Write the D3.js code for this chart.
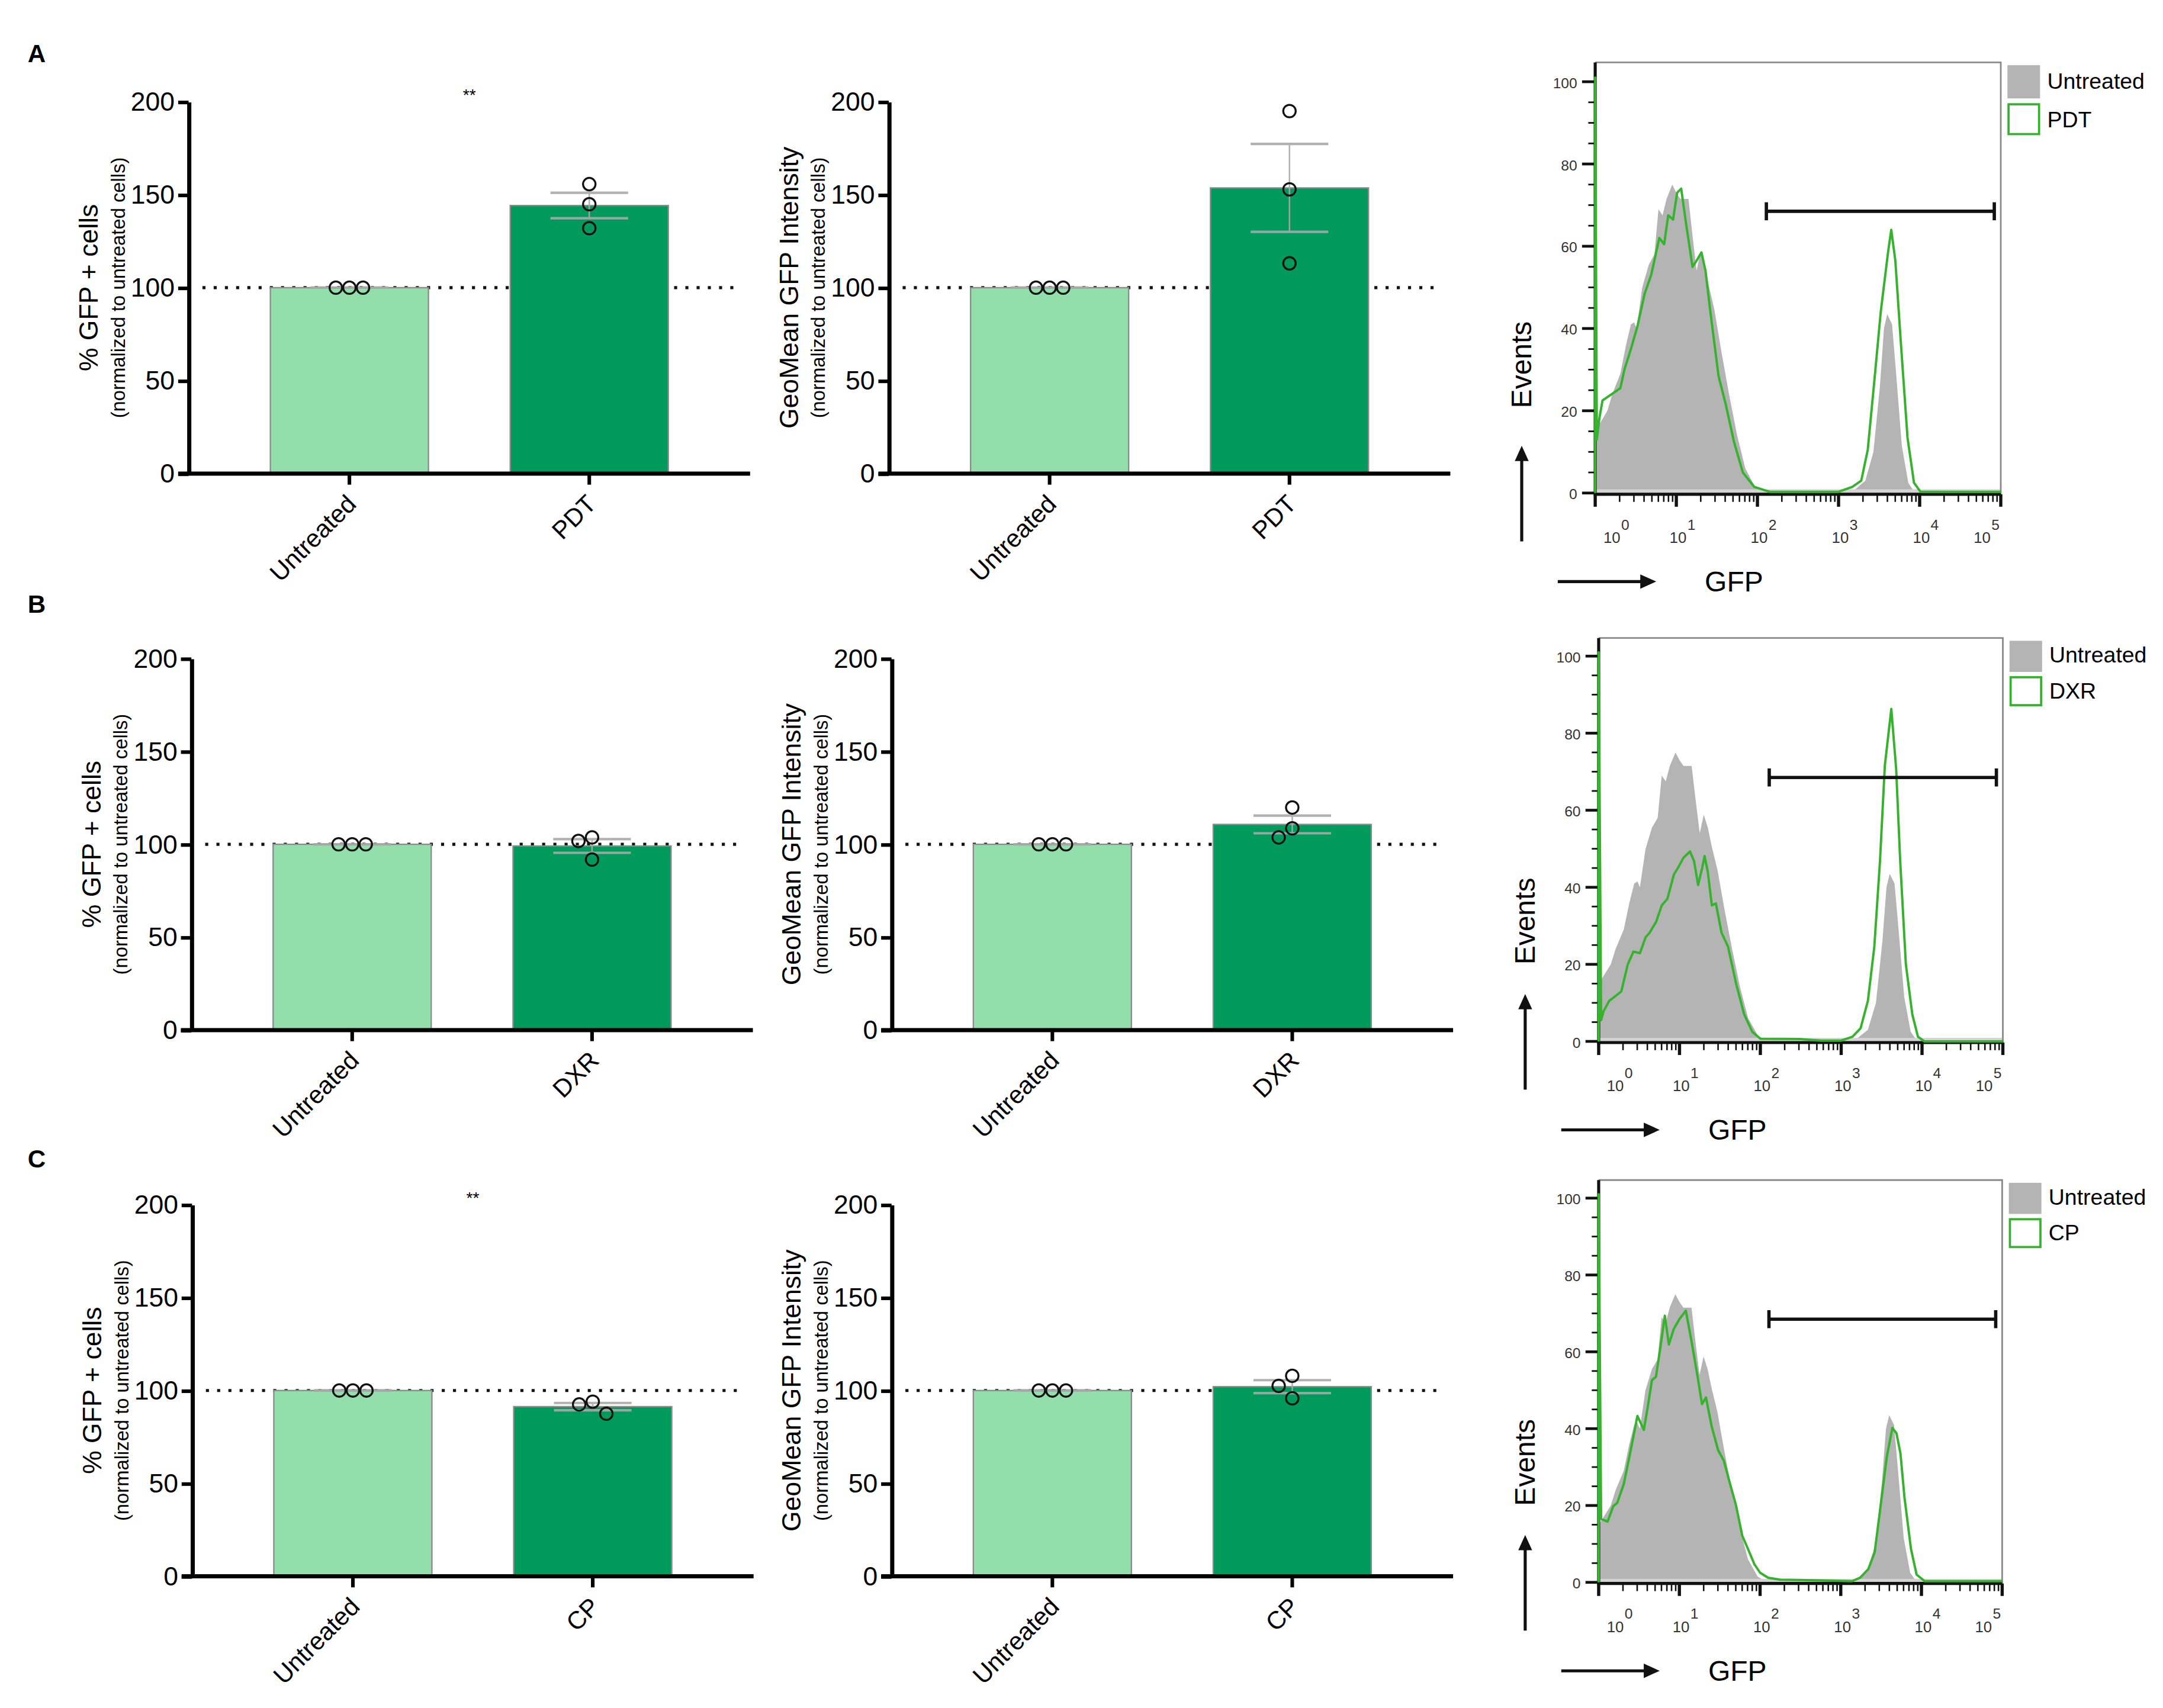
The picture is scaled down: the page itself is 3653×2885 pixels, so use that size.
<!DOCTYPE html>
<html>
<head>
<meta charset="utf-8">
<script src="https://cdn.jsdelivr.net/npm/d3@7"></script>
<style>
  body { margin: 0; background: #fff; }
  svg { display: block; }
  text { font-family: "Liberation Sans", Arial, sans-serif; }
</style>
</head>
<body>
<div id="chart"></div>
<script>
// ---- data -------------------------------------------------------------
var panelLetters = ['A', 'B', 'C'];
var treatments = ['PDT', 'DXR', 'CP'];

// % GFP+ cells, normalized to untreated (three replicates each)
var untreatedPct = [100, 100, 100];
var pdtPct = [155.7, 144.9, 132.0];
var dxrPct = [103.7, 101.8, 91.8];
var cpPct = [94.0, 92.5, 87.5];

// GeoMean GFP intensity, normalized to untreated
var untreatedMfi = [100, 100, 100];
var pdtMfi = [195.0, 152.9, 113.1];
var dxrMfi = [119.8, 108.6, 103.7];
var cpMfi = [107.9, 102.5, 95.8];

var pctStars = ['**', '', '**'];
var barTicks = [0, 50, 100, 150, 200];

// flow histograms: GFP in log10 units, events in % of max
var untreatedGfpLog = [0, 0.06, 0.15, 0.21, 0.31, 0.38, 0.44, 0.48, 0.51, 0.58, 0.66, 0.73, 0.78, 0.83, 0.88, 0.95, 1.0, 1.05, 1.15, 1.2, 1.25, 1.3, 1.35, 1.4, 1.47, 1.55, 1.65, 1.75, 1.85, 1.97, 2.05, 2.5, 3.0, 3.2, 3.33, 3.43, 3.51, 3.56, 3.6, 3.66, 3.71, 3.78, 3.86, 3.93, 4.0, 5.0];
var untreatedEvents = [15, 17, 20, 24, 29, 36, 41, 41.5, 40, 50, 55.5, 58, 69, 67.5, 71.5, 75, 73, 71.5, 71.5, 62.5, 54, 58.8, 55.5, 50.5, 44.5, 35, 24, 14, 6, 1.5, 0.5, 0.3, 0.2, 0.8, 3, 10, 26, 40, 43.5, 41, 29, 11.5, 2.5, 0.4, 0, 0];

var pdtGfpLog = [0, 0, 0.02, 0.05, 0.09, 0.2, 0.31, 0.36, 0.44, 0.52, 0.61, 0.69, 0.74, 0.79, 0.85, 0.9, 0.96, 1.01, 1.06, 1.12, 1.2, 1.25, 1.31, 1.36, 1.42, 1.52, 1.61, 1.71, 1.82, 1.96, 2.15, 3.0, 3.17, 3.28, 3.36, 3.44, 3.52, 3.61, 3.65, 3.7, 3.77, 3.85, 3.93, 4.01, 5.0];
var pdtEvents = [0, 101, 13, 18, 22.5, 24, 25.5, 30, 35, 40.5, 48.5, 53, 57.5, 62, 60.5, 67.5, 66.5, 73, 74, 65.5, 55, 56.5, 58.5, 54, 44, 28.5, 21.5, 12.5, 5, 1.5, 0.3, 0.3, 1.5, 3, 10.5, 27, 44, 58.5, 64, 56.5, 36, 13.5, 2.5, 0.3, 0.3];

var dxrGfpLog = [0, 0, 0.03, 0.06, 0.13, 0.21, 0.28, 0.36, 0.43, 0.51, 0.58, 0.63, 0.71, 0.78, 0.85, 0.93, 0.98, 1.05, 1.13, 1.18, 1.23, 1.28, 1.31, 1.35, 1.4, 1.45, 1.52, 1.6, 1.7, 1.8, 1.9, 2.0, 2.5, 2.75, 3.0, 3.14, 3.24, 3.33, 3.41, 3.48, 3.54, 3.62, 3.68, 3.73, 3.8, 3.88, 3.95, 4.03, 5.0];
var dxrEvents = [0, 101, 5.5, 7.8, 10.5, 11.8, 13, 20, 23.3, 22.9, 27, 28.2, 31, 35.3, 37, 43.3, 45, 47.7, 49.3, 46.8, 40.6, 45, 48.1, 44, 35.3, 35.8, 28.2, 24.6, 15, 7, 2.5, 0.7, 0.6, 0.2, 0.2, 1.2, 3.4, 10.5, 24.6, 46.8, 71.6, 86.3, 70.7, 46.8, 20, 7, 1.2, 0, 0];

var cpGfpLog = [0, 0, 0.03, 0.11, 0.18, 0.23, 0.31, 0.38, 0.43, 0.48, 0.56, 0.61, 0.66, 0.71, 0.76, 0.82, 0.87, 0.93, 1.0, 1.08, 1.15, 1.23, 1.28, 1.33, 1.4, 1.48, 1.55, 1.63, 1.7, 1.78, 1.85, 1.93, 2.0, 2.1, 2.25, 2.75, 3.14, 3.24, 3.34, 3.42, 3.49, 3.57, 3.64, 3.69, 3.74, 3.79, 3.87, 3.94, 4.04, 5.0];
var cpEvents = [0, 101, 16.5, 15.8, 19.8, 20.7, 25.5, 32.6, 37.9, 43.3, 39.7, 45.9, 52.6, 53.5, 60.5, 69.4, 61.9, 65.9, 68.5, 70.7, 62.8, 53, 46.4, 48.1, 40.6, 34.4, 31.7, 25.5, 20.2, 12.1, 8.7, 4.7, 2.5, 1.2, 0.7, 0.5, 0.3, 1.2, 3.4, 7.8, 19.3, 32.6, 40.2, 38.8, 33.5, 22, 8.7, 2, 0.3, 0.3];

var gateGfpLog = [2.11, 4.92];
var gateEvents = 68.5;
var histMajorTicks = [0, 20, 40, 60, 80, 100];
var gfpDecades = [0, 1, 2, 3, 4, 5];

// ---- styles / layout --------------------------------------------------
var lightGreen = '#93dfab';
var darkGreen = '#009b5c';
var histGray = '#b4b4b4';
var histGreen = '#36b22e';
var font = '"Liberation Sans", Arial, sans-serif';

var rows = [
    { top: 73.4, bottom: 341.6, ax1: 136, ax2: 641, letterY: 45,
      hist: { left: 1150.5, right: 1443, top: 45, bottom: 356.5 } },
    { top: 475, bottom: 743, ax1: 138, ax2: 643, letterY: 442,
      hist: { left: 1153, right: 1444.5, top: 460.2, bottom: 752 } },
    { top: 869, bottom: 1137, ax1: 138.5, ax2: 643, letterY: 842,
      hist: { left: 1153, right: 1444, top: 851.2, bottom: 1142.2 } }
];

var pctSeries = [pdtPct, dxrPct, cpPct];
var mfiSeries = [pdtMfi, dxrMfi, cpMfi];
var histSeries = [[pdtGfpLog, pdtEvents], [dxrGfpLog, dxrEvents], [cpGfpLog, cpEvents]];

var svg = d3.select('#chart').append('svg')
    .attr('width', 3653)
    .attr('height', 2885)
    .attr('viewBox', '0 0 1560 1232');

svg.append('rect').attr('width', 1560).attr('height', 1232).attr('fill', '#fff');

// spread overlapping points sideways, like a scatter dot plot
function swarm(vals, y, r) {
    var placed = [];
    var out = new Array(vals.length);
    var step = 2 * r + 0.8;
    var order = vals.map(function (v, i) { return i; })
        .sort(function (a, b) { return vals[b] - vals[a]; });
    order.forEach(function (i) {
        var py = y(vals[i]);
        for (var k = 0; k < 20; k++) {
            var off = (k === 0 ? 0 : (k % 2 ? -Math.ceil(k / 2) : Math.ceil(k / 2))) * step;
            var ok = placed.every(function (p) { return Math.hypot(p.x - off, p.y - py) >= 2 * r; });
            if (ok) { placed.push({ x: off, y: py }); out[i] = off; break; }
        }
    });
    return out;
}

function isDecade(d) {
    var l = Math.log10(d);
    return Math.abs(l - Math.round(l)) < 1e-9;
}

function drawBarChart(axisX, top, bottom, treatment, ctrlVals, trtVals, title, stars) {
    var g = svg.append('g');
    var cats = ['Untreated', treatment];
    var values = [ctrlVals, trtVals];

    var y = d3.scaleLinear().domain([0, 200]).range([bottom, top]);
    var x = d3.scaleBand().domain(cats)
        .range([axisX, axisX + 405])
        .paddingInner(0.341)
        .paddingOuter(0.341);

    // dotted reference at 100
    g.append('line')
        .attr('x1', axisX + 10).attr('x2', axisX + 398)
        .attr('y1', y(100)).attr('y2', y(100))
        .attr('stroke', '#111')
        .attr('stroke-width', 2.2)
        .attr('stroke-dasharray', '2.2 5.9');

    cats.forEach(function (c, i) {
        var vals = values[i];
        var m = d3.mean(vals);
        var sem = d3.deviation(vals) / Math.sqrt(vals.length);
        var cx = x(c) + x.bandwidth() / 2;

        g.append('rect')
            .attr('x', x(c))
            .attr('y', y(m))
            .attr('width', x.bandwidth())
            .attr('height', y(0) - y(m))
            .attr('fill', i === 0 ? lightGreen : darkGreen)
            .attr('stroke', '#8c8c8c')
            .attr('stroke-width', 1);

        // SEM error bar
        var eb = g.append('g')
            .attr('stroke', '#a9a9a9')
            .attr('opacity', 0.9);
        eb.append('line')
            .attr('x1', cx).attr('x2', cx)
            .attr('y1', y(m - sem)).attr('y2', y(m + sem))
            .attr('stroke-width', 1.1);
        [m - sem, m + sem].forEach(function (v) {
            eb.append('line')
                .attr('x1', cx - 28).attr('x2', cx + 28)
                .attr('y1', y(v)).attr('y2', y(v))
                .attr('stroke-width', 1.8);
        });

        var r = 4.5;
        var offs = swarm(vals, y, r);
        g.selectAll(null)
            .data(vals)
            .enter()
            .append('circle')
            .attr('cx', function (d, k) { return cx + offs[k]; })
            .attr('cy', function (d) { return y(d); })
            .attr('r', r)
            .attr('fill', 'none')
            .attr('stroke', '#111')
            .attr('stroke-width', 1.4);
    });

    // y axis
    var ya = g.append('g')
        .attr('transform', 'translate(' + axisX + ',0)')
        .call(d3.axisLeft(y).tickValues(barTicks).tickSize(7.5).tickSizeOuter(0).tickPadding(2.5));
    ya.select('.domain').attr('stroke', '#000').attr('stroke-width', 3);
    ya.selectAll('.tick line').attr('stroke', '#000').attr('stroke-width', 2.6);
    ya.selectAll('.tick text')
        .attr('font-family', font)
        .attr('font-size', 19)
        .attr('fill', '#000');

    // x axis
    var xa = g.append('g')
        .attr('transform', 'translate(0,' + bottom + ')')
        .call(d3.axisBottom(x).tickSize(8).tickSizeOuter(0));
    xa.select('.domain')
        .attr('d', 'M' + (axisX - 7.5) + ',0H' + (axisX + 405))
        .attr('stroke', '#000').attr('stroke-width', 3);
    xa.selectAll('.tick line').attr('stroke', '#000').attr('stroke-width', 2.6);
    xa.selectAll('.tick text')
        .attr('font-family', font)
        .attr('font-size', 18)
        .attr('fill', '#000')
        .attr('y', 0)
        .attr('dy', 0)
        .attr('text-anchor', 'end')
        .attr('transform', 'translate(6,23) rotate(-45)');

    // axis titles
    var midY = (top + bottom) / 2;
    g.append('text')
        .attr('transform', 'translate(' + (axisX - 65.5) + ',' + midY + ') rotate(-90)')
        .attr('text-anchor', 'middle')
        .attr('font-size', 19)
        .text(title);
    g.append('text')
        .attr('transform', 'translate(' + (axisX - 46) + ',' + midY + ') rotate(-90)')
        .attr('text-anchor', 'middle')
        .attr('font-size', 14)
        .text('(normalized to untreated cells)');

    if (stars) {
        g.append('text')
            .attr('x', (x(cats[0]) + x(cats[1]) + x.bandwidth()) / 2)
            .attr('y', top - 1)
            .attr('text-anchor', 'middle')
            .attr('font-size', 12)
            .text(stars);
    }
}

function drawHistogram(box, gfpLog, events, treatment) {
    var g = svg.append('g');
    var x = d3.scaleLog().domain([1, 1e5]).range([box.left, box.right]);
    var y = d3.scaleLinear().domain([-0.3, 104.7]).range([box.bottom, box.top]);
    var h = box.bottom - box.top;

    var grayPts = untreatedGfpLog.map(function (d, i) { return [d, untreatedEvents[i]]; });
    var greenPts = gfpLog.map(function (d, i) { return [d, events[i]]; });

    g.append('path')
        .datum(grayPts)
        .attr('fill', histGray)
        .attr('d', d3.area()
            .x(function (d) { return x(Math.pow(10, d[0])); })
            .y0(y(0))
            .y1(function (d) { return y(d[1]); }));

    // faint baseline band of the control histogram
    g.append('rect')
        .attr('x', box.left).attr('y', y(0.9))
        .attr('width', box.right - box.left).attr('height', y(0) - y(0.9))
        .attr('fill', '#d4d4d4');

    // frame
    g.append('path')
        .attr('d', 'M' + box.left + ',' + box.top + 'H' + box.right + 'V' + box.bottom)
        .attr('fill', 'none')
        .attr('stroke', '#8a8a8a')
        .attr('stroke-width', 1.2);

    // y axis with minor ticks every 5
    g.append('line')
        .attr('x1', box.left).attr('x2', box.left)
        .attr('y1', box.top).attr('y2', box.bottom + 1)
        .attr('stroke', '#111').attr('stroke-width', 2.2);
    g.selectAll(null)
        .data(d3.range(0, 101, 5))
        .enter()
        .append('line')
        .attr('x1', function (d) { return box.left - (d % 20 === 0 ? 9.5 : 5); })
        .attr('x2', box.left)
        .attr('y1', function (d) { return y(d); })
        .attr('y2', function (d) { return y(d); })
        .attr('stroke', '#111')
        .attr('stroke-width', function (d) { return d % 20 === 0 ? 2 : 1.2; });
    g.selectAll(null)
        .data(histMajorTicks)
        .enter()
        .append('text')
        .attr('x', box.left - 13)
        .attr('y', function (d) { return y(d) + 4.5; })
        .attr('text-anchor', 'end')
        .attr('font-size', 10.5)
        .attr('fill', '#333')
        .text(function (d) { return d; });

    // x axis, log decades with minor ticks
    g.append('line')
        .attr('x1', box.left - 1).attr('x2', box.right)
        .attr('y1', box.bottom).attr('y2', box.bottom)
        .attr('stroke', '#111').attr('stroke-width', 2.2);
    g.selectAll(null)
        .data(x.ticks())
        .enter()
        .append('line')
        .attr('x1', function (d) { return x(d); })
        .attr('x2', function (d) { return x(d); })
        .attr('y1', box.bottom)
        .attr('y2', function (d) { return box.bottom + (isDecade(d) ? 9 : 5.5); })
        .attr('stroke', '#111')
        .attr('stroke-width', function (d) { return isDecade(d) ? 2.3 : 1.1; });
    var labs = g.selectAll(null)
        .data(gfpDecades)
        .enter()
        .append('text')
        .attr('x', function (k) {
            var shift = k === 0 ? 12 : (k === 5 ? -13.5 : 1.2);
            return x(Math.pow(10, k)) - 6.1 + shift;
        })
        .attr('y', box.bottom + 35)
        .attr('font-size', 11)
        .attr('fill', '#333');
    labs.append('tspan').text('10');
    labs.append('tspan')
        .attr('font-size', 10.5)
        .attr('dx', 0.6)
        .attr('dy', -9.5)
        .text(function (k) { return k; });

    // treated sample outline
    g.append('path')
        .datum(greenPts)
        .attr('fill', 'none')
        .attr('stroke', histGreen)
        .attr('stroke-width', 1.7)
        .attr('stroke-linejoin', 'round')
        .attr('d', d3.line()
            .x(function (d) { return x(Math.pow(10, d[0])); })
            .y(function (d) { return y(d[1]); }));

    // gate
    var gx1 = x(Math.pow(10, gateGfpLog[0]));
    var gx2 = x(Math.pow(10, gateGfpLog[1]));
    var gy = y(gateEvents);
    var gate = g.append('g').attr('stroke', '#111').attr('stroke-width', 2.4);
    gate.append('line').attr('x1', gx1).attr('x2', gx2).attr('y1', gy).attr('y2', gy);
    gate.append('line').attr('x1', gx1).attr('x2', gx1).attr('y1', gy - 6.5).attr('y2', gy + 6.5);
    gate.append('line').attr('x1', gx2).attr('x2', gx2).attr('y1', gy - 6.5).attr('y2', gy + 6.5);

    // legend
    var lx = box.right + 4.8;
    g.append('rect')
        .attr('x', lx).attr('y', box.top + 2)
        .attr('width', 23.5).attr('height', 0.077 * h)
        .attr('fill', histGray);
    g.append('rect')
        .attr('x', lx + 0.8).attr('y', box.top + 0.097 * h)
        .attr('width', 22).attr('height', 0.069 * h)
        .attr('fill', '#fff')
        .attr('stroke', histGreen)
        .attr('stroke-width', 1.6);
    g.append('text')
        .attr('x', box.right + 33.5)
        .attr('y', box.top + 0.061 * h)
        .attr('font-size', 16)
        .text('Untreated');
    g.append('text')
        .attr('x', box.right + 33.5)
        .attr('y', box.top + 0.15 * h)
        .attr('font-size', 16)
        .text(treatment);

    // axis names with arrows
    var ex = box.left - 53;
    g.append('text')
        .attr('transform', 'translate(' + (ex + 7) + ',' + (box.bottom - 0.3 * h) + ') rotate(-90)')
        .attr('text-anchor', 'middle')
        .attr('font-size', 20.5)
        .text('Events');
    g.append('line')
        .attr('x1', ex).attr('x2', ex)
        .attr('y1', box.bottom + 34).attr('y2', box.bottom - 25)
        .attr('stroke', '#111').attr('stroke-width', 2.2);
    g.append('path')
        .attr('d', 'M' + ex + ',' + (box.bottom - 35) + 'L' + (ex - 5) + ',' + (box.bottom - 24) + 'L' + (ex + 5) + ',' + (box.bottom - 24) + 'Z')
        .attr('fill', '#111');

    var ay = box.bottom + 63;
    g.append('line')
        .attr('x1', box.left - 27).attr('x2', box.left + 34)
        .attr('y1', ay).attr('y2', ay)
        .attr('stroke', '#111').attr('stroke-width', 2.2);
    g.append('path')
        .attr('d', 'M' + (box.left + 44) + ',' + ay + 'L' + (box.left + 32.5) + ',' + (ay - 5.2) + 'L' + (box.left + 32.5) + ',' + (ay + 5.2) + 'Z')
        .attr('fill', '#111');
    g.append('text')
        .attr('x', box.left + 79)
        .attr('y', box.bottom + 70)
        .attr('font-size', 20.5)
        .text('GFP');
}

rows.forEach(function (row, i) {
    svg.append('text')
        .attr('x', 20)
        .attr('y', row.letterY)
        .attr('font-size', 18)
        .attr('font-weight', 'bold')
        .text(panelLetters[i]);

    drawBarChart(row.ax1, row.top, row.bottom, treatments[i], untreatedPct, pctSeries[i],
        '% GFP + cells', pctStars[i]);
    drawBarChart(row.ax2, row.top, row.bottom, treatments[i], untreatedMfi, mfiSeries[i],
        'GeoMean GFP Intensity', '');
    drawHistogram(row.hist, histSeries[i][0], histSeries[i][1], treatments[i]);
});
</script>
</body>
</html>
